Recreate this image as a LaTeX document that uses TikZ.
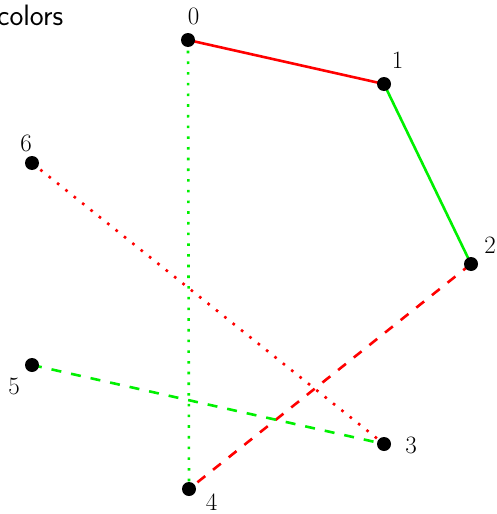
\documentclass[tikz,border=0pt]{standalone}
\begin{document}
\begin{tikzpicture}[x=1pt,y=-1pt,
  dot/.style={circle,fill=black,inner sep=0pt,minimum size=14pt},
  lbl/.style={inner sep=0pt,font=\fontsize{25}{28}\selectfont},
  edge/.style={line width=2.6pt},
  dsh/.style={edge,dash pattern=on 10pt off 10pt},
  dtt/.style={edge,dash pattern=on 2.6pt off 8.1pt}]
\useasboundingbox (0,0) rectangle (497,514);
\definecolor{gr}{RGB}{0,240,0}
\node[anchor=base west,inner sep=0pt,font=\sffamily\fontsize{29.5}{33}\selectfont] (title) at (-3,25.5) {colors};
\coordinate (c0) at (188,40);
\coordinate (c1) at (384,84);
\coordinate (c2) at (471,264);
\coordinate (c3) at (384,444);
\coordinate (c4) at (189,489);
\coordinate (c5) at (32,365);
\coordinate (c6) at (32,163);
\draw[edge,red] (c0) -- (c1);
\draw[edge,gr] (c1) -- (c2);
\draw[dsh,red] (c2) -- (c4);
\draw[dsh,gr] (c5) -- (c3);
\draw[dtt,gr] (c0) -- (c4);
\draw[dtt,red] (c6) -- (c3);
\node[dot] (n0) at (c0) {};
\node[dot] (n1) at (c1) {};
\node[dot] (n2) at (c2) {};
\node[dot] (n3) at (c3) {};
\node[dot] (n4) at (c4) {};
\node[dot] (n5) at (c5) {};
\node[dot] (n6) at (c6) {};
\node[lbl] (l0) at (193.5,16.5) {0};
\node[lbl] (l1) at (397.5,60) {1};
\node[lbl] (l2) at (490,245) {2};
\node[lbl] (l3) at (411,445) {3};
\node[lbl] (l4) at (211.5,502) {4};
\node[lbl] (l5) at (14,386) {5};
\node[lbl] (l6) at (26,143) {6};
\end{tikzpicture}
\end{document}
